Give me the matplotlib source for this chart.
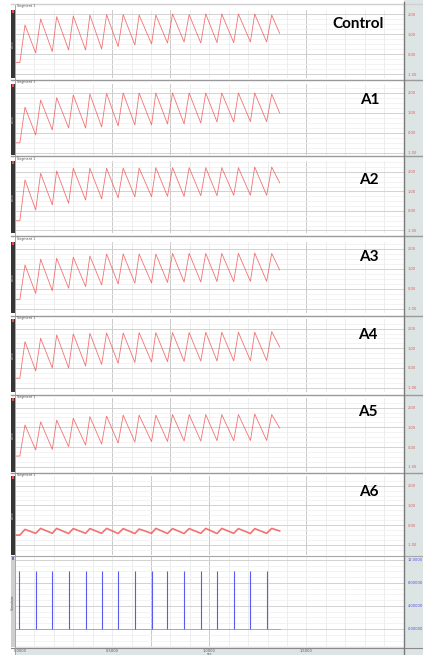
import matplotlib
matplotlib.use("Agg")
import matplotlib.pyplot as plt
from matplotlib.patches import Rectangle
from matplotlib.lines import Line2D

W, H = 423, 655

# stimulus times and peak times (x units, 0..4 across the chart)
stim_t = [0.044, 0.213, 0.384, 0.552, 0.727, 0.892, 1.062, 1.234,
          1.406, 1.570, 1.741, 1.913, 2.080, 2.252, 2.424, 2.591]
peak_t = [0.103, 0.264, 0.429, 0.600, 0.771, 0.943, 1.114, 1.278,
          1.450, 1.622, 1.793, 1.964, 2.129, 2.300, 2.468, 2.643]
t_base = 0.05
t_end = 2.725
stim_amp = 10.0

names = ["Control", "A1", "A2", "A3", "A4", "A5", "A6"]

base = [-0.43, -0.49, -0.50, -0.52, -0.52, -0.46, -0.51]
ends = [1.03, 1.00, 1.44, 0.95, 1.07, 0.96, -0.30]

peaks_control = [1.45, 1.75, 1.87, 1.90, 1.95, 1.97, 1.97, 1.95, 1.95, 2.00, 1.97, 2.00, 2.00, 2.00, 2.00, 1.95]
troughs_control = [0.05, 0.12, 0.20, 0.20, 0.25, 0.37, 0.45, 0.50, 0.55, 0.60, 0.55, 0.57, 0.57, 0.60, 0.60]
peaks_a1 = [1.29, 1.65, 1.77, 1.90, 1.95, 1.98, 2.00, 2.00, 2.00, 2.00, 2.00, 2.00, 2.00, 2.00, 2.00, 1.95]
troughs_a1 = [-0.10, 0.15, 0.25, 0.25, 0.30, 0.35, 0.40, 0.40, 0.45, 0.45, 0.50, 0.55, 0.55, 0.57, 0.57]
peaks_a2 = [1.59, 1.93, 2.05, 2.19, 2.19, 2.19, 2.20, 2.20, 2.22, 2.22, 2.22, 2.22, 2.22, 2.22, 2.25, 2.25]
troughs_a2 = [0.05, 0.31, 0.39, 0.56, 0.62, 0.67, 0.72, 0.73, 0.75, 0.75, 0.78, 0.78, 0.80, 0.80, 0.80]
peaks_a3 = [1.20, 1.49, 1.54, 1.59, 1.65, 1.75, 1.75, 1.75, 1.75, 1.78, 1.78, 1.78, 1.78, 1.78, 1.80, 1.78]
troughs_a3 = [-0.22, -0.09, 0.04, 0.12, 0.20, 0.25, 0.29, 0.30, 0.33, 0.35, 0.35, 0.37, 0.37, 0.38, 0.38]
peaks_a4 = [1.34, 1.51, 1.68, 1.73, 1.76, 1.78, 1.78, 1.80, 1.80, 1.80, 1.80, 1.82, 1.82, 1.82, 1.82, 1.85]
troughs_a4 = [-0.15, 0.00, 0.00, 0.10, 0.18, 0.24, 0.28, 0.30, 0.32, 0.33, 0.35, 0.35, 0.36, 0.37, 0.38]
peaks_a5 = [1.12, 1.28, 1.37, 1.46, 1.54, 1.57, 1.62, 1.62, 1.62, 1.65, 1.65, 1.65, 1.65, 1.65, 1.68, 1.65]
troughs_a5 = [-0.15, -0.12, 0.02, 0.10, 0.15, 0.20, 0.25, 0.27, 0.28, 0.30, 0.30, 0.32, 0.32, 0.33, 0.33]
peaks_a6 = [-0.22, -0.17, -0.17, -0.18, -0.18, -0.17, -0.18, -0.20, -0.17, -0.18, -0.18, -0.17, -0.17, -0.18, -0.18, -0.17]
troughs_a6 = [-0.42, -0.42, -0.43, -0.42, -0.42, -0.43, -0.43, -0.42, -0.43, -0.43, -0.42, -0.43, -0.42, -0.43, -0.42]

peaks = [peaks_control, peaks_a1, peaks_a2, peaks_a3, peaks_a4, peaks_a5, peaks_a6]
troughs = [troughs_control, troughs_a1, troughs_a2, troughs_a3, troughs_a4, troughs_a5, troughs_a6]

force_ticks = [-1, 0, 1, 2]
force_labels = ["-1.00", "0.00", "1.00", "2.00"]
stim_ticks = [0, 4, 8, 12]
stim_labels = ["0.00000", "4.00000", "8.00000", "12.0000"]
x_ticks = [0.05, 1, 2, 3]
x_labels = ["0.0000", "0.5000", "1.0000", "1.5000"]

# layout in pixels (top, bottom) and y limits per panel
rows = [(10, 78), (84, 155), (161, 233), (242, 313), (319, 392), (398, 472), (476, 555), (557, 647)]
ylims = [(-1.2, 2.2), (-1.1, 2.45), (-1.13, 2.56), (-1.2, 2.35), (-1.22, 2.49),
         (-1.27, 2.49), (-1.52, 2.49), (-3.13, 12.52)]
label_pos = [(358, 24), (370, 100), (369, 180), (369, 257), (368, 335), (368, 412), (369, 492)]
X0, X1 = 15, 403.5


def fx(x):
    return x / W


def fy(y):
    return 1 - y / H


fig = plt.figure(figsize=(W / 100, H / 100), dpi=100)
fig.patch.set_facecolor("white")

# right strip and bottom band (behind the axes)
fig.patches.append(Rectangle((fx(X1), 0), 1 - fx(X1), 1, transform=fig.transFigure,
                             facecolor="#dde4e4", edgecolor="none", zorder=-5))
fig.patches.append(Rectangle((fx(X0), 0), fx(X1) - fx(X0), fy(647), transform=fig.transFigure,
                             facecolor="#dde4e4", edgecolor="none", zorder=-5))

axes = []
for i, (top, bot) in enumerate(rows):
    ax = fig.add_axes([fx(X0), fy(bot), fx(X1) - fx(X0), fy(top) - fy(bot)])
    ax.set_zorder(1)
    ax.set_xlim(0, 4)
    ax.set_ylim(*ylims[i])
    for s in ax.spines.values():
        s.set_visible(False)
    ax.set_xticks([])
    # vertical grid
    for k in range(1, 20):
        ax.axvline(k * 0.2, color="#e6e6e6", lw=0.5, zorder=0)
    if i < 6:
        dark = [1.0, 1.6, 3.0]
    elif i == 6:
        dark = [1.0, 1.4, 2.0, 3.0]
    else:
        dark = [1.4, 2.0]
    for xv in dark:
        ax.axvline(xv, color="#c4c4c4", lw=0.6, zorder=0)
    # horizontal grid
    if i < 7:
        yt, yl, step = force_ticks, force_labels, 0.25
    else:
        yt, yl, step = stim_ticks, stim_labels, 1.0
    lo, hi = ylims[i]
    v = yt[0] - step * 8
    while v < hi:
        if lo < v:
            ax.axhline(v, color="#efefef", lw=0.5, zorder=0)
        v += step
    for v in yt:
        ax.axhline(v, color="#cdcdcd", lw=0.6, zorder=0)
    ax.yaxis.tick_right()
    ax.set_yticks(yt)
    ax.set_yticklabels(yl)
    ax.tick_params(axis="y", length=0, pad=3, labelsize=2.6,
                   labelcolor="#e05a5a" if i < 7 else "#5050e0")
    axes.append(ax)

# force traces
for i in range(7):
    xs = [0, t_base, peak_t[0]]
    ys = [base[i], base[i], peaks[i][0]]
    for k in range(15):
        xs += [stim_t[k + 1], peak_t[k + 1]]
        ys += [troughs[i][k], peaks[i][k + 1]]
    xs.append(t_end)
    ys.append(ends[i])
    lw = 1.2 if i == 6 else 0.6
    axes[i].plot(xs, ys, color="#f05050", lw=lw, alpha=0.8, zorder=3)
    fig.text(fx(label_pos[i][0]), fy(label_pos[i][1]), names[i],
             ha="center", va="center", fontsize=11, fontweight="bold",
             family="Lato", color="black", zorder=5)

# stimulus panel
axs = axes[7]
axs.plot([0.01, t_end], [0, 0], color="#a0a0f0", lw=0.7, zorder=2)
axs.vlines(stim_t, 0, stim_amp, color="#5a5af0", lw=0.8, zorder=3)

# bottom time axis labels
for xv, lab in zip(x_ticks, x_labels):
    fig.text(fx(X0 + xv * (X1 - X0) / 4), fy(651), lab, ha="center", va="center",
             fontsize=2.6, color="#555555")
fig.text(fx(210), fy(654), "sec", ha="center", va="center", fontsize=2.3, color="#666666")

# headers, separators, left bars
hdr = [5, 81, 158, 238, 317, 396, 474]
for y in hdr:
    fig.add_artist(Line2D([fx(X0 - 4), fx(W)], [fy(y - 1.5), fy(y - 1.5)],
                          color="#9a9a9a" if y > 5 else "#d0d0d0", lw=1.0, zorder=4))
    fig.text(fx(17), fy(y + 0.8), "Segment 1", fontsize=2.4, color="#555555", va="center", zorder=5)
fig.add_artist(Line2D([fx(X0 - 4), fx(W)], [fy(556), fy(556)], color="#a6a6a6", lw=0.8, zorder=4))
fig.add_artist(Line2D([fx(X0 - 4), fx(W)], [fy(647.5), fy(647.5)], color="#8a8a8a", lw=0.8, zorder=4))

for i, (top, bot) in enumerate(rows):
    col = "#363636" if i < 7 else "#cfcfcf"
    fig.patches.append(Rectangle((fx(11), fy(bot)), fx(4), fy(top) - fy(bot),
                                 transform=fig.transFigure, facecolor=col, edgecolor="none", zorder=4))
    fig.patches.append(Rectangle((fx(11.5), fy(top + 3)), fx(2.5), fy(top) - fy(top + 3),
                                 transform=fig.transFigure, zorder=4,
                                 facecolor="#e05050" if i < 7 else "#7070e0", edgecolor="none"))
    fig.text(fx(13), fy((top + bot) / 2), "Force" if i < 7 else "Stimulator",
             rotation=90, fontsize=2.2, color="#bbbbbb" if i < 7 else "#555555",
             ha="center", va="center", zorder=5)

fig.add_artist(Line2D([fx(X1), fx(X1)], [0, fy(2)], color="#7a7a7a", lw=1.0, zorder=4))
fig.add_artist(Line2D([fx(X0), fx(X0)], [0, fy(5)], color="#9a9a9a", lw=0.6, zorder=4))

fig.savefig("out.png", dpi=100)
